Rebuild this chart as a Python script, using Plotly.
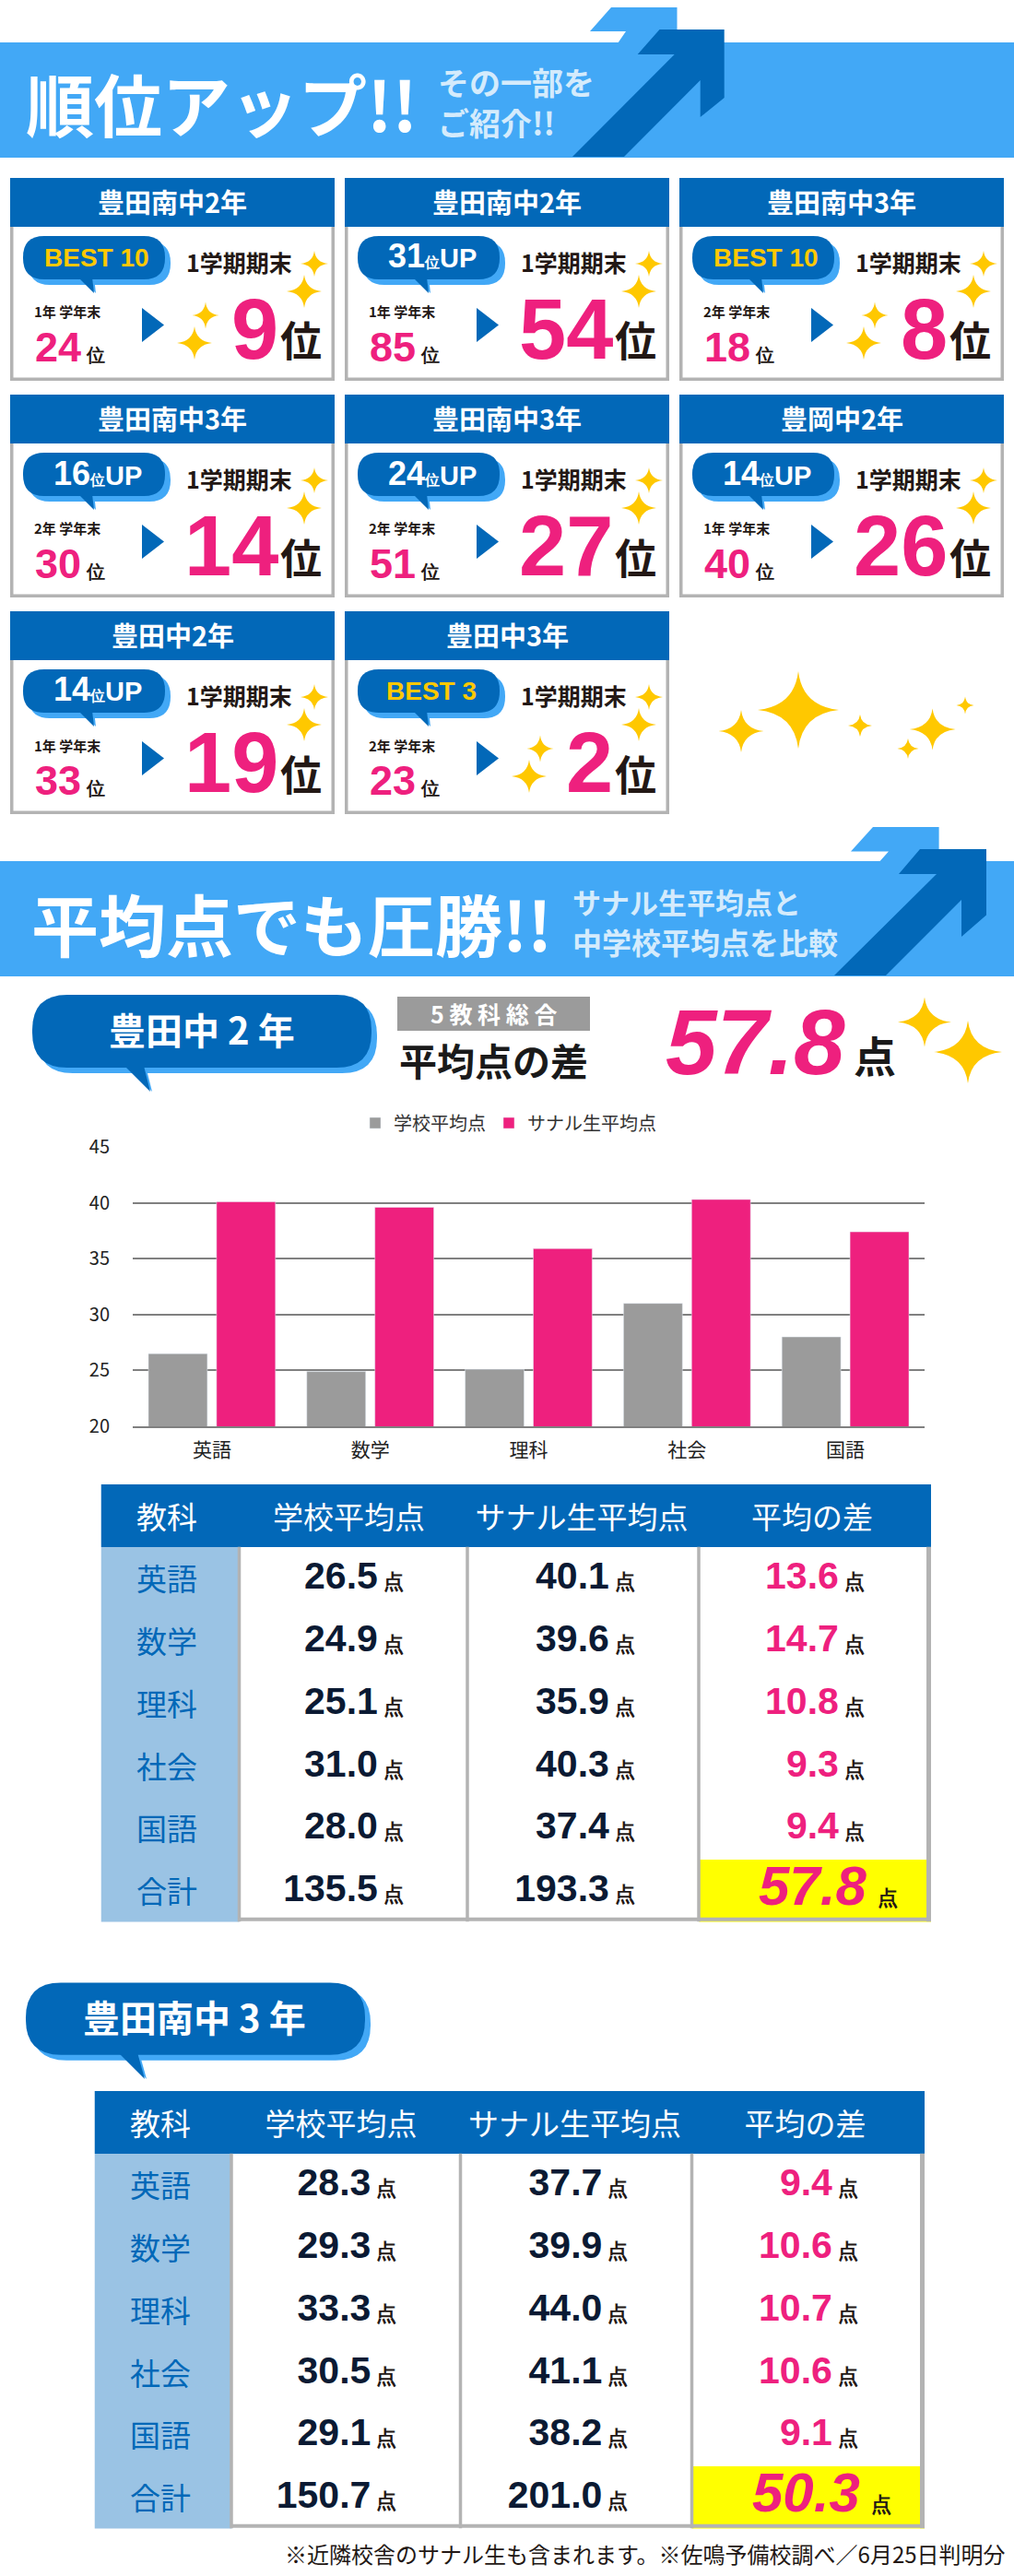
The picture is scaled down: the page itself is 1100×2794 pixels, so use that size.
import plotly.graph_objects as go

W = 1100
H = 2794

BLUE = "#0268B8"
SKY = "#42A8F6"
SIDE = "#9AC3E4"
PINK = "#EE207E"
GRAY = "#9B9B9B"
BORDER = "#B3B3B3"
STAR = "#FFC800"
INK = "#231815"
NAVY = "#0B1A33"
JP = "Noto Sans CJK JP"
NUM = "Liberation Sans"

# rank cards
card_schools = ["豊田南中2年", "豊田南中2年", "豊田南中3年", "豊田南中3年", "豊田南中3年", "豊岡中2年", "豊田中2年", "豊田中3年"]
card_tags = ["BEST 10", "31", "BEST 10", "16", "24", "14", "14", "BEST 3"]
card_terms = ["1年 学年末", "1年 学年末", "2年 学年末", "2年 学年末", "2年 学年末", "1年 学年末", "1年 学年末", "2年 学年末"]
card_before = [24, 85, 18, 30, 51, 40, 33, 23]
card_after = [9, 54, 8, 14, 27, 26, 19, 2]

# score tables
subjects = ["英語", "数学", "理科", "社会", "国語"]
table_heads = ["教科", "学校平均点", "サナル生平均点", "平均の差"]
rows_label = subjects + ["合計"]

toyota2_school = [26.5, 24.9, 25.1, 31.0, 28.0, 135.5]
toyota2_sanaru = [40.1, 39.6, 35.9, 40.3, 37.4, 193.3]
toyota2_diff = [13.6, 14.7, 10.8, 9.3, 9.4, 57.8]

minami3_school = [28.3, 29.3, 33.3, 30.5, 29.1, 150.7]
minami3_sanaru = [37.7, 39.9, 44.0, 41.1, 38.2, 201.0]
minami3_diff = [9.4, 10.6, 10.7, 10.6, 9.1, 50.3]

shapes = []
annotations = []


def px(x):
    return x / W


def py(y):
    return 1 - y / H


def add_path(points, color):
    d = "M" + " L".join(f"{px(x):.5f} {py(y):.5f}" for x, y in points) + " Z"
    shapes.append(dict(type="path", xref="paper", yref="paper", path=d,
                       fillcolor=color, line_width=0, layer="below"))


def add_rect(x0, y0, x1, y1, color):
    shapes.append(dict(type="rect", xref="paper", yref="paper", x0=px(x0), x1=px(x1), y0=py(y0), y1=py(y1),
                       fillcolor=color, line_width=0, layer="below"))


def add_star(cx, cy, rx, ry):
    k = 0.1
    pts = [(cx, cy - ry), (cx + rx * k, cy - ry * k), (cx + rx, cy), (cx + rx * k, cy + ry * k),
           (cx, cy + ry), (cx - rx * k, cy + ry * k), (cx - rx, cy), (cx - rx * k, cy - ry * k)]
    d = f"M{px(pts[0][0]):.5f} {py(pts[0][1]):.5f}"
    for i in range(1, 8, 2):
        c = pts[i]
        e = pts[(i + 1) % 8]
        d += f" Q{px(c[0]):.5f} {py(c[1]):.5f} {px(e[0]):.5f} {py(e[1]):.5f}"
    shapes.append(dict(type="path", xref="paper", yref="paper", path=d + " Z",
                       fillcolor=STAR, line_width=0, layer="below"))


def add_round(x0, y0, x1, y1, r, color):
    def p(x, y):
        return f"{px(x):.5f} {py(y):.5f}"
    d = (f"M{p(x0 + r, y0)} L{p(x1 - r, y0)} Q{p(x1, y0)} {p(x1, y0 + r)} L{p(x1, y1 - r)} "
         f"Q{p(x1, y1)} {p(x1 - r, y1)} L{p(x0 + r, y1)} Q{p(x0, y1)} {p(x0, y1 - r)} "
         f"L{p(x0, y0 + r)} Q{p(x0, y0)} {p(x0 + r, y0)} Z")
    shapes.append(dict(type="path", xref="paper", yref="paper", path=d,
                       fillcolor=color, line_width=0, layer="below"))


def add_text(x, y, text, size, color=INK, font=JP, anchor="center"):
    annotations.append(dict(xref="paper", yref="paper", x=px(x), y=py(y), text=text, showarrow=False,
                            xanchor=anchor, yanchor="middle", align=anchor, borderpad=0, borderwidth=0,
                            font=dict(size=size, color=color, family=font)))


def add_band(top, bottom, light_pts, dark_pts):
    add_path(light_pts, SKY)
    add_rect(0, top, W, bottom, SKY)
    add_path(dark_pts, BLUE)


def add_bubble(x0, y0, x1, y1, r, tail):
    add_round(x0 + 6, y0 + 6, x1 + 6, y1 + 6, r, SKY)
    add_path([(tail[0][0] + 2, tail[0][1]), (tail[1][0] + 2, tail[1][1]), (tail[2][0] + 2, tail[2][1])], SKY)
    add_round(x0, y0, x1, y1, r, BLUE)
    add_path(tail, BLUE)


# first banner
add_band(46, 171,
         [(663, 8), (734.5, 8), (734.5, 50), (668, 50), (679, 34), (640, 34)],
         [(715.5, 32), (785.7, 32), (785.7, 106), (759.7, 127), (759.7, 87), (677, 170), (621, 170), (731.7, 59), (691.7, 59)])
add_text(28, 110, "<b>順位アップ!!</b>", 74, "white", anchor="left")
add_text(475, 110, "<b>その一部を<br>ご紹介!!</b>", 34, "#D4EBFC", anchor="left")

# rank cards
card_x = [11, 374, 737]
card_y = [193, 428, 663]
for i, school in enumerate(card_schools):
    x0 = card_x[i % 3]
    y0 = card_y[i // 3]
    add_rect(x0, y0, x0 + 352, y0 + 220, BORDER)
    add_rect(x0 + 3.5, y0 + 40, x0 + 348.5, y0 + 216.5, "white")
    add_rect(x0, y0, x0 + 352, y0 + 53, BLUE)
    add_text(x0 + 176, y0 + 25, f"<b>{school}</b>", 29, "white")
    add_bubble(x0 + 14, y0 + 63, x0 + 168, y0 + 110, 23,
               [(x0 + 74, y0 + 108), (x0 + 91, y0 + 125), (x0 + 89, y0 + 108)])
    tag = card_tags[i]
    if tag.startswith("BEST"):
        add_text(x0 + 94, y0 + 86, f"<b>{tag}</b>", 28, STAR, NUM)
    else:
        add_text(x0 + 95, y0 + 85,
                 f"<b>{tag}<span style=\"font-size:16px\">位</span><span style=\"font-size:29px\">UP</span></b>",
                 36, "white", NUM)
    add_text(x0 + 248, y0 + 91, "<b>1学期期末</b>", 25)
    add_text(x0 + 98, y0 + 145, f"<b>{card_terms[i]}</b>", 15, anchor="right")
    add_text(x0 + 103, y0 + 183,
             f"<b>{card_before[i]}<span style=\"font-size:20px;color:{INK}\"> 位</span></b>",
             45, PINK, NUM, anchor="right")
    add_path([(x0 + 143, y0 + 141), (x0 + 167, y0 + 159.5), (x0 + 143, y0 + 178)], BLUE)
    add_text(x0 + 291, y0 + 164, f"<b>{card_after[i]}</b>", 92, PINK, NUM, anchor="right")
    add_text(x0 + 315, y0 + 175, "<b>位</b>", 45)
    add_star(x0 + 330, y0 + 93, 15, 14)
    add_star(x0 + 319, y0 + 123, 19, 18)
    if card_after[i] < 10:
        add_star(x0 + 212, y0 + 149, 14.5, 14.5)
        add_star(x0 + 200, y0 + 179, 19, 18)

add_star(866, 770, 44, 42)
add_star(804, 793, 24.5, 23)
add_star(933, 787, 13, 12)
add_star(1011.6, 791, 25, 22.5)
add_star(1047, 765, 9.5, 9.5)
add_star(985, 812, 11.6, 11)

# second banner
add_band(934, 1059,
         [(947, 897), (1018.6, 897), (1018.6, 938), (951, 938), (964, 923.6), (923, 923.6)],
         [(998, 921), (1070, 921), (1070, 992.5), (1043, 1016), (1043, 976), (961, 1058), (905, 1058), (1016, 948), (975, 948)])
add_text(34, 1000, "<b>平均点でも圧勝!!</b>", 73, "white", anchor="left")
add_text(621, 978, "<b>サナル生平均点と</b>", 31, "#D4EBFC", anchor="left")
add_text(621, 1021, "<b>中学校平均点を比較</b>", 32, "#D4EBFC", anchor="left")

# headline for the first table
add_bubble(35, 1079, 403, 1158, 38, [(135, 1156), (163, 1184), (156, 1156)])
add_text(219, 1116, "<b>豊田中 2 年</b>", 40, "white")
add_rect(431, 1081, 640, 1118, GRAY)
add_text(535.5, 1099.5, "<b>5 教 科 総 合</b>", 25, "white")
add_text(535.5, 1149, "<b>平均点の差</b>", 41, "#1A1A1A")
add_text(917, 1130, "<b><i>57.8</i></b>", 100, PINK, NUM, anchor="right")
add_text(949, 1143, "<b>点</b>", 46, "#1A1A1A")
add_star(1003, 1108.6, 29, 27)
add_star(1050, 1141, 37, 34)

# headline for the second table
add_bubble(28, 2150.6, 396, 2228.7, 38, [(128, 2226), (157, 2255), (149, 2226)])
add_text(211, 2187, "<b>豊田南中 3 年</b>", 40, "white")

add_text(1091, 2769, "※近隣校舎のサナル生も含まれます。※佐鳴予備校調べ／6月25日判明分", 24, anchor="right")

fig = go.Figure()

# bar chart, values come from the first table
fig.add_trace(go.Bar(name="学校平均点", x=subjects, y=toyota2_school[:5], marker_color=GRAY,
                     xaxis="x", yaxis="y", hoverinfo="skip"))
fig.add_trace(go.Bar(name="サナル生平均点", x=subjects, y=toyota2_sanaru[:5], marker_color=PINK,
                     xaxis="x", yaxis="y", hoverinfo="skip"))


def add_table(num, edges, top, school, sanaru, diff):
    xa = f"x{num}"
    ya = f"y{num}"
    bottom = top + 474.5
    # 0 header, 1 side column, 2 plain cell, 3 total cell
    z = [[0, 0, 0, 0]] + [[1, 2, 2, 2] for _ in rows_label]
    z[6][3] = 3
    fig.add_trace(go.Heatmap(z=z, x=edges, y=list(range(8)), xaxis=xa, yaxis=ya, zmin=0, zmax=3, showscale=False,
                             colorscale=[[0, BLUE], [0.25, BLUE], [0.25, SIDE], [0.5, SIDE],
                                         [0.5, "white"], [0.75, "white"], [0.75, "#FFFF00"], [1, "#FFFF00"]],
                             hoverinfo="skip"))
    centers = [edges[0] + 71.5, edges[1] + 119, edges[2] + 124, edges[3] + 123]
    fig.add_trace(go.Scatter(x=centers, y=[0.58] * 4, text=table_heads, mode="text", xaxis=xa, yaxis=ya,
                             textfont=dict(size=33, color="white", family=JP), showlegend=False, hoverinfo="skip"))
    fig.add_trace(go.Scatter(x=[centers[0]] * 6, y=[r + 1.58 for r in range(6)], text=rows_label, mode="text",
                             xaxis=xa, yaxis=ya, textfont=dict(size=33, color=BLUE, family=JP),
                             showlegend=False, hoverinfo="skip"))
    unit = f"<span style=\"font-size:22px;color:{INK}\"> 点</span>"
    for col, values, color in [(2, school, NAVY), (3, sanaru, NAVY)]:
        fig.add_trace(go.Scatter(x=[edges[col] - 69] * 6, y=[r + 1.52 for r in range(6)],
                                 text=[f"<b>{v:.1f}{unit}</b>" for v in values], mode="text",
                                 textposition="middle left", xaxis=xa, yaxis=ya,
                                 textfont=dict(size=41, color=color, family=NUM), showlegend=False, hoverinfo="skip"))
    fig.add_trace(go.Scatter(x=[edges[4] - 72] * 5, y=[r + 1.52 for r in range(5)],
                             text=[f"<b>{v:.1f}{unit}</b>" for v in diff[:5]], mode="text",
                             textposition="middle left", xaxis=xa, yaxis=ya,
                             textfont=dict(size=41, color=PINK, family=NUM), showlegend=False, hoverinfo="skip"))
    fig.add_trace(go.Scatter(x=[edges[4] - 36], y=[6.5],
                             text=[f"<b><i>{diff[5]:.1f}</i><span style=\"font-size:22px;color:{INK}\">  点</span></b>"],
                             mode="text", textposition="middle left", xaxis=xa, yaxis=ya,
                             textfont=dict(size=60, color=PINK, family=NUM), showlegend=False, hoverinfo="skip"))
    for x, w in zip(edges[1:], [3.5, 3.5, 3.5, 5]):
        off = -w / 2 if x == edges[4] else 0
        shapes.append(dict(type="line", xref=xa, yref=ya, x0=x + off, x1=x + off, y0=1, y1=7,
                           line=dict(color=BORDER, width=w), layer="above"))
    shapes.append(dict(type="line", xref=xa, yref=ya, x0=edges[1], x1=edges[4], y0=6.96, y1=6.96,
                       line=dict(color=BORDER, width=4), layer="above"))
    fig.layout[f"xaxis{num}"] = dict(domain=[px(edges[0]), px(edges[4])], range=[edges[0], edges[4]],
                                     visible=False, anchor=ya)
    fig.layout[f"yaxis{num}"] = dict(domain=[py(bottom), py(top)], range=[7, 0], visible=False, anchor=xa)


add_table(2, [109.5, 259.5, 507, 758, 1010], 1610, toyota2_school, toyota2_sanaru, toyota2_diff)
add_table(3, [102.5, 251, 499.5, 750.5, 1003], 2268, minami3_school, minami3_sanaru, minami3_diff)

fig.update_traces(cliponaxis=False, selector=dict(type="scatter"))

fig.update_layout(
    width=W,
    height=H,
    margin=dict(l=0, r=0, t=0, b=0, pad=0, autoexpand=False),
    paper_bgcolor="white",
    plot_bgcolor="white",
    barmode="group",
    bargap=0.14,
    bargroupgap=0.135,
    hovermode=False,
    shapes=shapes,
    annotations=annotations,
    legend=dict(orientation="h", x=px(552), y=py(1218), xanchor="center", yanchor="middle",
                font=dict(size=20, color="#333333", family=JP), bgcolor="rgba(0,0,0,0)"),
    xaxis=dict(domain=[px(144), px(1003)], anchor="y", showgrid=False, showline=True, linecolor="#808080", linewidth=2,
               ticks="", tickfont=dict(size=21, color="#222222", family=JP), ticklabelstandoff=6),
    yaxis=dict(domain=[py(1547), py(1244)], anchor="x", range=[20, 45], dtick=5, gridcolor="#808080", gridwidth=2,
               zeroline=False, tickfont=dict(size=20, color="#222222", family=JP), ticklabelstandoff=24),
)

fig.write_html("out.html", config=dict(displayModeBar=False), post_script="document.body.style.margin='0';")
